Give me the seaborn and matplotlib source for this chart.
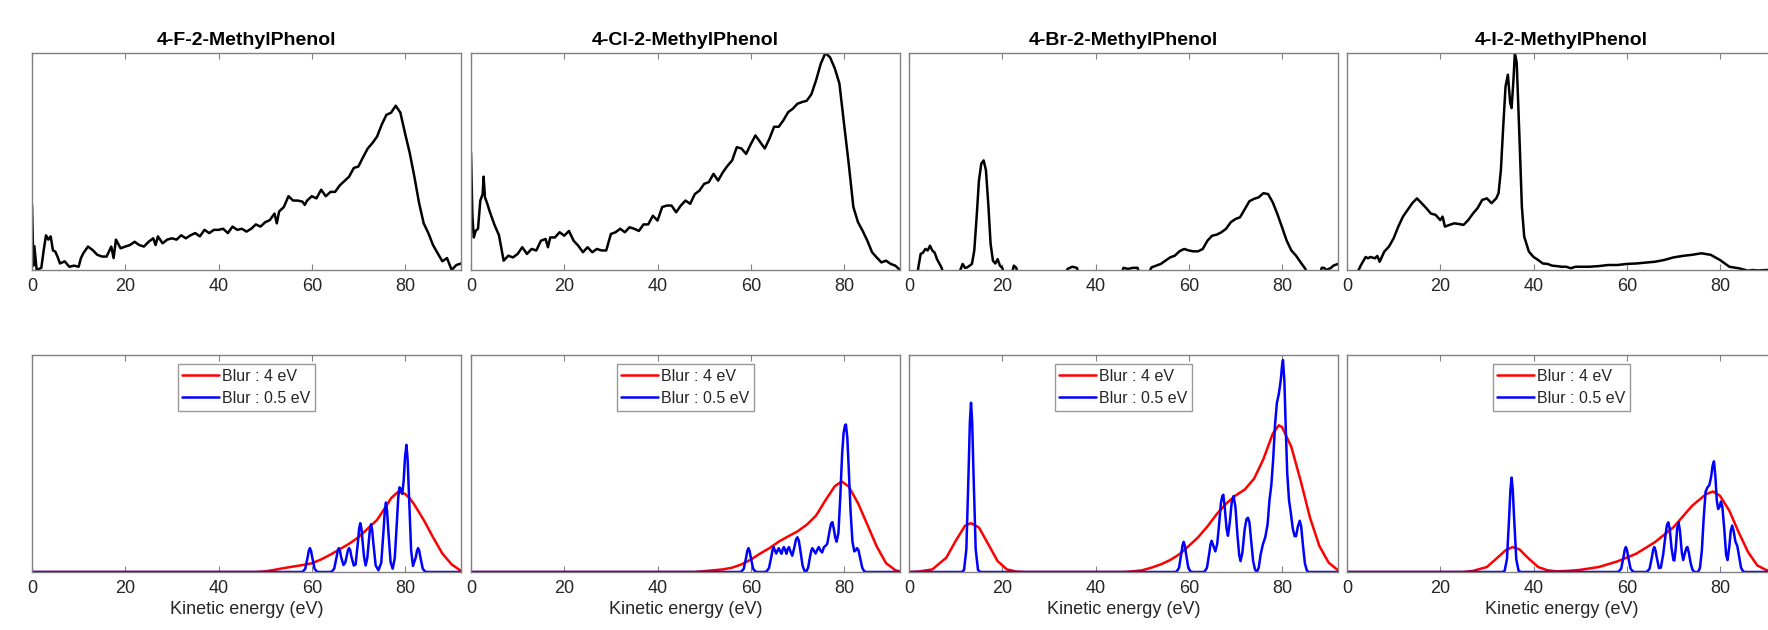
import matplotlib
matplotlib.use("Agg")
import numpy as np
import pandas as pd
import matplotlib.pyplot as plt
import seaborn as sns

# ---------------- data (kinetic energy in eV, signal scaled to panel height) ----------------
molecules = ["4-F-2-MethylPhenol", "4-Cl-2-MethylPhenol", "4-Br-2-MethylPhenol", "4-I-2-MethylPhenol"]
ke_ticks = [0, 20, 40, 60, 80]
blur_labels = ["Blur : 4 eV", "Blur : 0.5 eV"]

# experimental spectra (top row)
exp_F = [(0, 0.30), (0.3, 0.02), (0.5, 0.11), (1, 0), (2, 0.01), (2.5, 0.09), (3, 0.16), (3.5, 0.14), (4, 0.155),
         (4.5, 0.09), (5, 0.085), (5.5, 0.06), (6, 0.03), (7, 0.04), (8, 0.015), (9, 0.02), (10, 0.015), (10.5, 0.055),
         (11, 0.077), (12, 0.108), (13, 0.092), (14, 0.07), (15, 0.062), (16, 0.062), (17, 0.108), (17.5, 0.055),
         (18, 0.14), (19, 0.1), (20, 0.108), (21, 0.115), (22, 0.13), (23, 0.115), (24, 0.108), (25, 0.13), (26, 0.146),
         (26.5, 0.115), (27, 0.155), (28, 0.123), (29, 0.14), (30, 0.146), (31, 0.14), (32, 0.16), (33, 0.146),
         (34, 0.16), (35, 0.17), (36, 0.155), (37, 0.185), (38, 0.17), (39, 0.185), (40, 0.185), (41, 0.19), (42, 0.17),
         (43, 0.2), (44, 0.185), (45, 0.19), (46, 0.177), (47, 0.19), (48, 0.21), (49, 0.2), (50, 0.22), (51, 0.23),
         (52, 0.26), (52.5, 0.215), (53, 0.27), (54, 0.29), (55, 0.34), (56, 0.32), (57, 0.32), (58, 0.315),
         (58.5, 0.30), (59, 0.32), (60, 0.34), (61, 0.33), (62, 0.37), (63, 0.34), (64, 0.36), (65, 0.36), (66, 0.39),
         (67, 0.41), (68, 0.43), (69, 0.47), (70, 0.477), (71, 0.52), (72, 0.56), (73, 0.585), (74, 0.615), (75, 0.67),
         (76, 0.715), (77, 0.725), (78, 0.757), (79, 0.725), (80, 0.63), (81, 0.54), (82, 0.43), (83, 0.31),
         (84, 0.215), (85, 0.17), (86, 0.115), (87, 0.077), (88, 0.04), (89, 0.055), (90, 0.0), (91, 0.023), (92, 0.03)]

exp_Cl = [(0, 0.54), (0.3, 0.25), (0.6, 0.15), (1, 0.18), (1.5, 0.19), (2, 0.32), (2.5, 0.35), (2.7, 0.43), (3, 0.335),
          (3.5, 0.305), (4, 0.27), (5, 0.21), (6, 0.16), (7, 0.043), (8, 0.066), (9, 0.058), (10, 0.074), (11, 0.105),
          (12, 0.074), (13, 0.097), (14, 0.09), (15, 0.135), (16, 0.143), (16.5, 0.105), (17, 0.15), (18, 0.15),
          (19, 0.174), (20, 0.158), (21, 0.18), (22, 0.135), (23, 0.112), (24, 0.082), (25, 0.105), (26, 0.082),
          (27, 0.097), (28, 0.09), (29, 0.09), (30, 0.166), (31, 0.174), (32, 0.19), (33, 0.174), (34, 0.197),
          (35, 0.19), (36, 0.18), (37, 0.21), (38, 0.21), (39, 0.25), (40, 0.228), (41, 0.29), (42, 0.297),
          (43, 0.297), (44, 0.266), (45, 0.297), (46, 0.32), (47, 0.305), (48, 0.35), (49, 0.366), (50, 0.397),
          (51, 0.405), (52, 0.443), (53, 0.412), (54, 0.45), (55, 0.48), (56, 0.505), (57, 0.566), (58, 0.56),
          (59, 0.535), (60, 0.58), (61, 0.62), (62, 0.59), (63, 0.56), (64, 0.605), (65, 0.66), (66, 0.66), (67, 0.69),
          (68, 0.727), (69, 0.743), (70, 0.766), (71, 0.774), (72, 0.78), (73, 0.81), (74, 0.874), (75, 0.95),
          (76, 1.0), (77, 0.98), (78, 0.93), (79, 0.86), (80, 0.674), (81, 0.49), (82, 0.29), (83, 0.22), (84, 0.18),
          (85, 0.135), (86, 0.082), (87, 0.058), (88, 0.035), (89, 0.043), (90, 0.028), (91, 0.02), (92, 0)]

exp_Br = [(0, -0.05), (1.8, -0.02), (2, 0.012), (2.5, 0.074), (3, 0.08), (3.5, 0.097), (4, 0.09), (4.5, 0.112),
          (5, 0.09), (5.5, 0.08), (6, 0.05), (7, 0.01), (7.5, -0.03), (10.8, -0.03), (11, 0.0), (11.5, 0.028),
          (12, 0.01), (12.5, 0.012), (13, 0.02), (13.5, 0.028), (14, 0.09), (14.5, 0.243), (15, 0.412), (15.5, 0.49),
          (16, 0.505), (16.5, 0.46), (17, 0.305), (17.5, 0.12), (18, 0.043), (18.5, 0.03), (19, 0.05), (19.5, 0.02),
          (20, 0.01), (20.5, -0.03), (22, -0.02), (22.5, 0.02), (23, 0.01), (23.5, -0.03), (33.3, -0.03),
          (34, 0.005), (35, 0.015), (36, 0.01), (36.5, -0.02), (45.5, -0.02), (46, 0.01), (47, 0.005), (48, 0.01),
          (49, 0.01), (49.5, -0.02), (51.5, -0.01), (52, 0.012), (53, 0.02), (54, 0.028), (55, 0.043), (56, 0.058),
          (57, 0.066), (58, 0.086), (59, 0.097), (60, 0.09), (61, 0.086), (62, 0.086), (63, 0.097), (64, 0.135),
          (65, 0.158), (66, 0.163), (67, 0.174), (68, 0.19), (69, 0.22), (70, 0.235), (71, 0.243), (72, 0.28),
          (73, 0.317), (74, 0.328), (75, 0.335), (76, 0.354), (77, 0.35), (78, 0.312), (79, 0.258), (80, 0.197),
          (81, 0.135), (82, 0.09), (83, 0.066), (84, 0.035), (85, 0.005), (85.5, -0.03), (88.3, -0.01),
          (88.5, 0.01), (89, 0.01), (89.5, 0.0), (90.5, 0.01), (91, 0.02), (92, 0.028)]

exp_I = [(0, -0.05), (2.5, 0.0), (3, 0.023), (4, 0.06), (4.5, 0.054), (5, 0.06), (6, 0.054), (6.5, 0.065),
         (7, 0.038), (8, 0.085), (9, 0.108), (10, 0.146), (11, 0.2), (12, 0.246), (13, 0.277), (14, 0.308),
         (15, 0.33), (16, 0.308), (17, 0.285), (18, 0.26), (19, 0.254), (20, 0.23), (20.5, 0.246), (21, 0.2),
         (22, 0.208), (23, 0.215), (24, 0.212), (25, 0.208), (26, 0.23), (27, 0.26), (28, 0.285), (29, 0.323),
         (30, 0.33), (31, 0.308), (32, 0.33), (32.5, 0.354), (33, 0.46), (33.5, 0.66), (34, 0.846), (34.5, 0.9),
         (35, 0.77), (35.3, 0.746), (35.7, 0.877), (36, 1.0), (36.4, 0.954), (37, 0.6), (37.5, 0.292), (38, 0.154),
         (39, 0.085), (40, 0.06), (41, 0.046), (42, 0.03), (43, 0.028), (44, 0.02), (45, 0.018), (46, 0.015),
         (47, 0.015), (48, 0.008), (49, 0.015), (50, 0.015), (52, 0.015), (54, 0.018), (56, 0.023), (58, 0.023),
         (60, 0.028), (62, 0.03), (64, 0.034), (66, 0.038), (68, 0.046), (70, 0.058), (72, 0.065), (74, 0.07),
         (76, 0.077), (78, 0.07), (80, 0.046), (82, 0.015), (84, 0.008), (86, -0.003), (87, 0.0), (88, -0.002),
         (90, 0.0), (92, 0.0)]

# simulated spectra, 4 eV blur (bottom row, red)
sim4_F = [(0, 0), (48, 0), (50, 0.003), (52, 0.01), (54, 0.018), (56, 0.025), (58, 0.032), (60, 0.04), (62, 0.058),
          (64, 0.08), (66, 0.105), (68, 0.13), (70, 0.16), (72, 0.2), (74, 0.24), (76, 0.305), (77, 0.34),
          (78, 0.36), (78.6, 0.37), (80, 0.36), (81, 0.34), (82, 0.31), (84, 0.24), (86, 0.16), (88, 0.085),
          (90, 0.035), (92, 0.005)]
sim4_Cl = [(0, 0), (48, 0), (50, 0.004), (52, 0.008), (54, 0.012), (56, 0.02), (58, 0.035), (60, 0.057),
           (62, 0.085), (64, 0.11), (66, 0.14), (68, 0.164), (70, 0.187), (72, 0.218), (74, 0.26), (76, 0.33),
           (78, 0.395), (79.5, 0.417), (81, 0.394), (83, 0.317), (85, 0.218), (87, 0.118), (89, 0.041),
           (91, 0.008), (92, 0.003)]
sim4_Br = [(0, 0), (2, 0.002), (5, 0.012), (8, 0.066), (10, 0.143), (12, 0.213), (13.3, 0.225), (15, 0.205),
           (17, 0.128), (19, 0.05), (21, 0.012), (23, 0.002), (25, 0), (46, 0), (48, 0.003), (50, 0.008),
           (52, 0.02), (54, 0.035), (56, 0.055), (58, 0.082), (60, 0.12), (62, 0.16), (64, 0.21), (66, 0.267),
           (68, 0.315), (70, 0.352), (72, 0.38), (74, 0.43), (76, 0.52), (78, 0.637), (79.3, 0.676), (80, 0.668),
           (82, 0.576), (84, 0.42), (86, 0.25), (88, 0.12), (90, 0.043), (92, 0.008)]
sim4_I = [(0, 0), (25, 0), (27, 0.005), (30, 0.023), (32, 0.061), (34, 0.1), (35.5, 0.115), (37, 0.104),
          (39, 0.061), (41, 0.023), (43, 0.008), (45, 0.003), (48, 0.006), (50, 0.01), (54, 0.023), (58, 0.049),
          (62, 0.084), (66, 0.137), (70, 0.206), (74, 0.305), (77, 0.359), (78.5, 0.371), (80, 0.351), (82, 0.282),
          (84, 0.183), (86, 0.092), (88, 0.03), (90, 0.008), (92, 0.002)]

# simulated spectra, 0.5 eV blur (bottom row, blue)
sim05_F = [(0, 0), (57.6, 0), (58.1, 0.002), (58.6, 0.015), (59.1, 0.067), (59.35, 0.097), (59.6, 0.11),
           (59.85, 0.097), (60.1, 0.067), (60.6, 0.015), (61.1, 0.002), (61.6, 0),
           (63.8, 0), (64.3, 0.002), (64.8, 0.015), (65.3, 0.067), (65.55, 0.097), (65.8, 0.11), (66.05, 0.097),
           (66.3, 0.068), (66.8, 0.032), (67.2, 0.045), (67.5, 0.075), (67.75, 0.1), (68.0, 0.11), (68.25, 0.1),
           (68.5, 0.07), (69.0, 0.03), (69.4, 0.035), (69.9, 0.14), (70.15, 0.2), (70.4, 0.225), (70.65, 0.2),
           (70.9, 0.14), (71.2, 0.07), (71.55, 0.03), (71.9, 0.064), (72.2, 0.134), (72.45, 0.194), (72.7, 0.22),
           (72.95, 0.194), (73.2, 0.134), (73.7, 0.03), (74.3, 0.008), (74.9, 0.043), (75.4, 0.195),
           (75.65, 0.28), (75.9, 0.32), (76.15, 0.28), (76.4, 0.195), (76.9, 0.045), (77.35, 0.015),
           (77.8, 0.065), (78.3, 0.25), (78.55, 0.345), (78.8, 0.39), (79.05, 0.385), (79.4, 0.36), (79.7, 0.42),
           (80.0, 0.53), (80.3, 0.586), (80.55, 0.52), (80.8, 0.38), (81.3, 0.1), (81.7, 0.028), (82.3, 0.067),
           (82.55, 0.097), (82.8, 0.11), (83.05, 0.097), (83.3, 0.067), (83.8, 0.015), (84.3, 0.002), (84.8, 0),
           (92, 0)]
sim05_Cl = [(0, 0), (57.5, 0), (58.0, 0.002), (58.5, 0.015), (59.0, 0.067), (59.25, 0.097), (59.5, 0.11),
            (59.75, 0.097), (60.0, 0.067), (60.5, 0.015), (61.0, 0.002), (61.5, 0),
            (62.9, 0), (63.4, 0.003), (63.9, 0.018), (64.4, 0.07), (64.65, 0.1), (64.9, 0.115), (65.15, 0.1),
            (65.45, 0.085), (65.75, 0.1), (66.0, 0.11), (66.3, 0.095), (66.6, 0.084), (66.85, 0.105),
            (67.1, 0.115), (67.4, 0.1), (67.65, 0.084), (67.9, 0.105), (68.2, 0.115), (68.5, 0.095),
            (68.9, 0.075), (69.3, 0.11), (69.7, 0.15), (70.0, 0.16), (70.3, 0.145), (70.7, 0.09), (71.1, 0.03),
            (71.5, 0.006), (71.9, 0.002), (72.3, 0.02), (72.7, 0.07), (73.0, 0.1), (73.2, 0.11), (73.5, 0.1),
            (73.9, 0.085), (74.3, 0.105), (74.6, 0.115), (74.9, 0.1), (75.3, 0.09), (75.7, 0.115), (76.0, 0.12),
            (76.4, 0.13), (76.9, 0.19), (77.2, 0.222), (77.5, 0.23), (77.8, 0.2), (78.1, 0.16), (78.4, 0.14),
            (78.8, 0.18), (79.2, 0.35), (79.6, 0.55), (79.9, 0.64), (80.2, 0.675), (80.4, 0.68), (80.7, 0.62),
            (81.0, 0.48), (81.4, 0.28), (81.8, 0.14), (82.2, 0.095), (82.5, 0.1), (82.8, 0.11), (83.1, 0.1),
            (83.5, 0.06), (83.9, 0.02), (84.3, 0.004), (84.7, 0), (92, 0)]
sim05_Br = [(0, 0), (11.3, 0), (11.8, 0.009), (12.3, 0.105), (12.8, 0.48), (13.05, 0.69), (13.3, 0.78),
            (13.55, 0.69), (13.8, 0.48), (14.3, 0.105), (14.8, 0.009), (15.3, 0),
            (56.9, 0), (57.4, 0.002), (57.9, 0.019), (58.4, 0.085), (58.65, 0.122), (58.9, 0.139),
            (59.15, 0.122), (59.4, 0.085), (59.9, 0.019), (60.4, 0.002), (60.9, 0),
            (62.9, 0), (63.4, 0.002), (63.9, 0.02), (64.4, 0.088), (64.65, 0.127), (64.9, 0.144), (65.2, 0.125),
            (65.7, 0.095), (66.1, 0.13), (66.5, 0.22), (66.9, 0.32), (67.2, 0.35), (67.4, 0.356), (67.7, 0.3),
            (68.1, 0.2), (68.4, 0.167), (68.8, 0.23), (69.2, 0.32), (69.6, 0.35), (70.0, 0.3), (70.4, 0.18),
            (70.8, 0.08), (71.1, 0.05), (71.5, 0.09), (72.0, 0.2), (72.4, 0.245), (72.7, 0.25), (73.0, 0.23),
            (73.4, 0.14), (73.8, 0.05), (74.2, 0.012), (74.6, 0.0), (75.0, 0.02), (75.4, 0.08), (75.9, 0.128),
            (76.4, 0.16), (76.9, 0.22), (77.3, 0.33), (77.7, 0.4), (78.1, 0.52), (78.5, 0.68), (78.9, 0.78),
            (79.3, 0.82), (79.7, 0.88), (80.0, 0.95), (80.2, 0.977), (80.5, 0.88), (80.8, 0.66), (81.1, 0.46),
            (81.5, 0.33), (81.9, 0.27), (82.3, 0.2), (82.7, 0.165), (83.0, 0.165), (83.4, 0.21), (83.8, 0.236),
            (84.1, 0.21), (84.5, 0.12), (84.9, 0.04), (85.3, 0.008), (85.7, 0), (92, 0)]
sim05_I = [(0, 0), (33.3, 0), (33.8, 0.005), (34.3, 0.059), (34.8, 0.265), (35.05, 0.38), (35.3, 0.435),
           (35.55, 0.38), (35.8, 0.265), (36.3, 0.059), (36.8, 0.005), (37.3, 0),
           (57.8, 0), (58.3, 0.002), (58.8, 0.016), (59.3, 0.07), (59.55, 0.101), (59.8, 0.115), (60.05, 0.101),
           (60.3, 0.07), (60.8, 0.016), (61.3, 0.002), (61.8, 0),
           (63.9, 0), (64.4, 0.002), (64.9, 0.016), (65.4, 0.07), (65.65, 0.101), (65.9, 0.115), (66.15, 0.101),
           (66.4, 0.07), (66.9, 0.018), (67.3, 0.02), (67.8, 0.08), (68.3, 0.17), (68.6, 0.215), (68.9, 0.229),
           (69.2, 0.2), (69.6, 0.11), (70.0, 0.055), (70.2, 0.053), (70.5, 0.11), (70.8, 0.2), (71.1, 0.229),
           (71.4, 0.19), (71.8, 0.09), (72.1, 0.055), (72.5, 0.09), (72.8, 0.112), (73.0, 0.115), (73.3, 0.09),
           (73.7, 0.04), (74.1, 0.01), (74.5, 0), (75.3, 0), (75.7, 0.02), (76.1, 0.1), (76.5, 0.25), (76.9, 0.37),
           (77.3, 0.39), (77.7, 0.4), (78.1, 0.44), (78.4, 0.49), (78.7, 0.51), (79.0, 0.44), (79.3, 0.33),
           (79.6, 0.29), (79.9, 0.3), (80.2, 0.325), (80.5, 0.3), (80.9, 0.2), (81.3, 0.08), (81.6, 0.055),
           (82.0, 0.12), (82.3, 0.19), (82.6, 0.214), (82.9, 0.19), (83.3, 0.14), (83.7, 0.12), (84.1, 0.07),
           (84.5, 0.02), (84.9, 0.004), (85.3, 0), (92, 0)]

experiment = [exp_F, exp_Cl, exp_Br, exp_I]
blur_4 = [sim4_F, sim4_Cl, sim4_Br, sim4_I]
blur_05 = [sim05_F, sim05_Cl, sim05_Br, sim05_I]

# ---------------- style ----------------
sns.set_style("white")
plt.rcParams['font.family'] = ['Liberation Sans', 'DejaVu Sans']
box_grey = '#808080'
text_grey = '#262626'


def to_df(pairs):
    return pd.DataFrame(pairs, columns=['ke', 'signal'])


def matlab_box(ax):
    ax.set_xlim(0, 92)
    ax.set_ylim(0, 1)
    ax.set_xticks(ke_ticks)
    ax.set_yticks([])
    ax.set_xlabel('')
    ax.set_ylabel('')
    for s in ax.spines.values():
        s.set_visible(True)
        s.set_color(box_grey)
        s.set_linewidth(1.0)
    ax.tick_params(axis='x', direction='in', top=True, bottom=True, length=4, width=0.8,
                   color=box_grey, labelcolor=text_grey, labelsize=13, pad=6)


fig = plt.figure(figsize=(17.68, 6.30), dpi=100)
W, H = 1768.0, 630.0
lefts = [32, 471, 909, 1347]
pw = 429

for i, name in enumerate(molecules):
    # top: experiment
    ax = fig.add_axes([lefts[i] / W, 1 - 270 / H, pw / W, 217 / H])
    sns.lineplot(data=to_df(experiment[i]), x='ke', y='signal', ax=ax, color='black',
                 linewidth=1.8, estimator=None, sort=False)
    matlab_box(ax)
    ax.set_title(name, fontsize=14, fontweight='bold', pad=5.5, color='black')

    # bottom: simulations
    ax2 = fig.add_axes([lefts[i] / W, 1 - 572 / H, pw / W, 217 / H])
    sns.lineplot(data=to_df(blur_4[i]), x='ke', y='signal', ax=ax2, color='#ff0000',
                 linewidth=1.8, estimator=None, sort=False, label=blur_labels[0])
    sns.lineplot(data=to_df(blur_05[i]), x='ke', y='signal', ax=ax2, color='#0000ff',
                 linewidth=1.8, estimator=None, sort=False, label=blur_labels[1])
    matlab_box(ax2)
    ax2.set_xlabel('Kinetic energy (eV)', fontsize=13, color=text_grey, labelpad=3)
    leg = ax2.legend(loc='upper center', fontsize=11.5, frameon=True, fancybox=False,
                     handlelength=2.3, handletextpad=0.2, borderpad=0.3, labelspacing=0.45,
                     borderaxespad=0.55)
    leg.get_frame().set_edgecolor(box_grey)
    leg.get_frame().set_linewidth(1.0)
    for t in leg.get_texts():
        t.set_color(text_grey)

fig.savefig('out.png', dpi=100)
